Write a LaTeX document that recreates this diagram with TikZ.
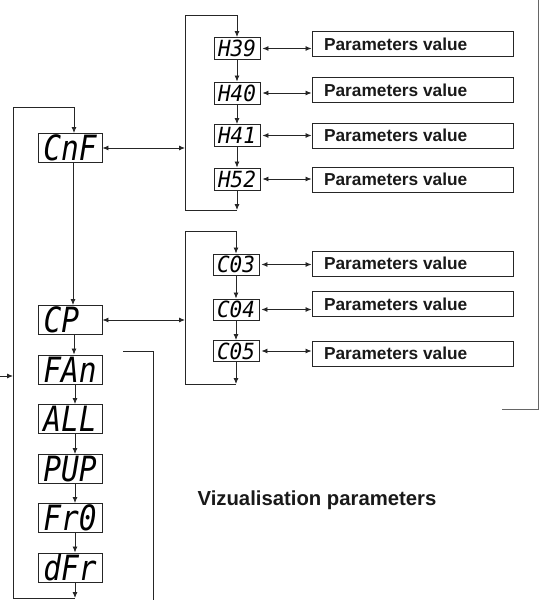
\documentclass[tikz,border=0pt]{standalone}
\usepackage{fontspec}
\usepackage{graphicx}
\usetikzlibrary{arrows.meta,calc}
\newfontfamily\arialfont{Liberation Sans}
\newfontfamily\segfont{DejaVu Sans Mono}
\newcommand{\bigseg}[1]{\scalebox{1}[1.18]{#1}}
\newcommand{\smallseg}[1]{\scalebox{1}[1.06]{#1}}
\tikzset{
  conn/.style={line width=0.85pt, draw=black!85},
  arr/.style={conn, -{Latex[length=6pt,width=5pt]}},
  darr/.style={conn, {Latex[length=6pt,width=5pt]}-{Latex[length=6pt,width=5pt]}},
  bigbox/.style={draw=black!85, line width=0.9pt, minimum width=64pt, minimum height=29pt, inner sep=0pt,
    text height=25pt, text depth=0pt, font=\segfont\itshape\fontsize{29.5}{29.5}\selectfont},
  smallbox/.style={draw=black!85, line width=0.9pt, minimum width=46pt, minimum height=22pt, inner sep=0pt,
    text height=16.3pt, text depth=0pt, font=\segfont\itshape\fontsize{21}{21}\selectfont},
  parbox/.style={draw=black!85, line width=0.9pt, minimum width=201pt, minimum height=25pt, inner sep=0pt,
    font=\arialfont\bfseries\fontsize{17.3}{17.3}\selectfont, text=black!90},
}
\begin{document}
\begin{tikzpicture}[x=1pt,y=-1pt]
\useasboundingbox (0,0) rectangle (540,600);
% main column
\node[bigbox] (cnf) at (70,148) {\bigseg{CnF}};
\node[bigbox] (cp) at (70,320) {\makebox[53pt][l]{\bigseg{CP}}};
\node[bigbox] (fan) at (70,369.5) {\bigseg{FAn}};
\node[bigbox] (all) at (70,419) {\bigseg{ALL}};
\node[bigbox] (pup) at (70,469) {\bigseg{PUP}};
\node[bigbox] (fro) at (70,518) {\bigseg{Fr0}};
\node[bigbox] (dfr) at (70,567.5) {\bigseg{dFr}};
% H group
\node[smallbox] (h39) at (237,48.5) {\smallseg{H39}};
\node[smallbox] (h40) at (237,93) {\smallseg{H40}};
\node[smallbox] (h41) at (237,135.5) {\smallseg{H41}};
\node[smallbox] (h52) at (237,179) {\smallseg{H52}};
% C group
\node[smallbox, minimum height=21pt] (c03) at (236,264.5) {\smallseg{C03}};
\node[smallbox, minimum height=21pt] (c04) at (236,309.5) {\smallseg{C04}};
\node[smallbox, minimum height=21pt] (c05) at (236,351) {\smallseg{C05}};
% parameter boxes
\node[parbox] (p1) at (412.5,44) {\makebox[177pt][l]{Parameters value}};
\node[parbox] (p2) at (412.5,90) {\makebox[177pt][l]{Parameters value}};
\node[parbox] (p3) at (412.5,135.5) {\makebox[177pt][l]{Parameters value}};
\node[parbox] (p4) at (412.5,179.5) {\makebox[177pt][l]{Parameters value}};
\node[parbox] (p5) at (412.5,263.5) {\makebox[177pt][l]{Parameters value}};
\node[parbox] (p6) at (412.5,304) {\makebox[177pt][l]{Parameters value}};
\node[parbox] (p7) at (412.5,353.5) {\makebox[177pt][l]{Parameters value}};
% label
\node[font=\arialfont\bfseries\fontsize{20.3}{20.3}\selectfont, text=black!90] (viz) at (317,500) {Vizualisation parameters};
% coordinates
\coordinate (ltop) at (13,107);
\coordinate (lbot) at (13,598);
\coordinate (htop) at (185,15);
\coordinate (hbot) at (185,210);
\coordinate (ctop) at (185,231);
\coordinate (cbot) at (185,384);
\coordinate (entry) at (0,376);
\coordinate (entryend) at (13,376);
\coordinate (b2a) at (123,351);
\coordinate (b2b) at (153,351);
\coordinate (b2c) at (153,600);
\coordinate (b3a) at (502,409);
\coordinate (b3b) at (538.8,409);
\coordinate (b3c) at (538.8,0);
% main loop
\draw[arr] (lbot) -- (ltop) -| ([xshift=4pt]cnf.north);
\draw[arr] ([xshift=5pt]dfr.south) -- ([xshift=5pt]dfr.south |- lbot);
\draw[conn] (lbot) -- ([xshift=5pt]dfr.south |- lbot);
\draw[arr] (entry) -- (entryend);
\draw[arr] ([xshift=3pt]cnf.south) -- ([xshift=3pt]cp.north);
\draw[arr] ([xshift=4pt]cp.south) -- ([xshift=4pt]fan.north);
\draw[arr] ([xshift=5pt]fan.south) -- ([xshift=5pt]all.north);
\draw[arr] ([xshift=5pt]all.south) -- ([xshift=5pt]pup.north);
\draw[arr] ([xshift=5pt]pup.south) -- ([xshift=5pt]fro.north);
\draw[arr] ([xshift=5pt]fro.south) -- ([xshift=5pt]dfr.north);
% H loop
\draw[darr] (cnf.east) -- (cnf.east -| htop);
\draw[conn] (htop) -- (hbot);
\draw[arr] (htop) -| (h39.north);
\draw[arr] (h39.south) -- (h40.north);
\draw[arr] (h40.south) -- (h41.north);
\draw[arr] (h41.south) -- (h52.north);
\draw[arr] (h52.south) -- (h52.south |- hbot);
\draw[conn] (h52.south |- hbot) -- (hbot);
\draw[darr] ([xshift=2pt]h39.east) -- (h39.east -| p1.west);
\draw[darr] ([xshift=2pt]h40.east) -- (h40.east -| p2.west);
\draw[darr] ([xshift=2pt]h41.east) -- (h41.east -| p3.west);
\draw[darr] ([xshift=2pt]h52.east) -- (h52.east -| p4.west);
% C loop
\draw[darr] (cp.east) -- (cp.east -| ctop);
\draw[conn] (ctop) -- (cbot);
\draw[arr] (ctop) -| (c03.north);
\draw[arr] (c03.south) -- (c04.north);
\draw[arr] (c04.south) -- (c05.north);
\draw[arr] (c05.south) -- (c05.south |- cbot);
\draw[conn] (c05.south |- cbot) -- (cbot);
\draw[darr] ([xshift=2pt]c03.east) -- (c03.east -| p5.west);
\draw[darr] ([xshift=2pt]c04.east) -- (c04.east -| p6.west);
\draw[darr] ([xshift=2pt]c05.east) -- (c05.east -| p7.west);
% brackets
\draw[conn] (b2a) -- (b2b) -- (b2c);
\draw[conn, draw=black!60] (b3a) -- (b3b) -- (b3c);
\end{tikzpicture}
\end{document}
